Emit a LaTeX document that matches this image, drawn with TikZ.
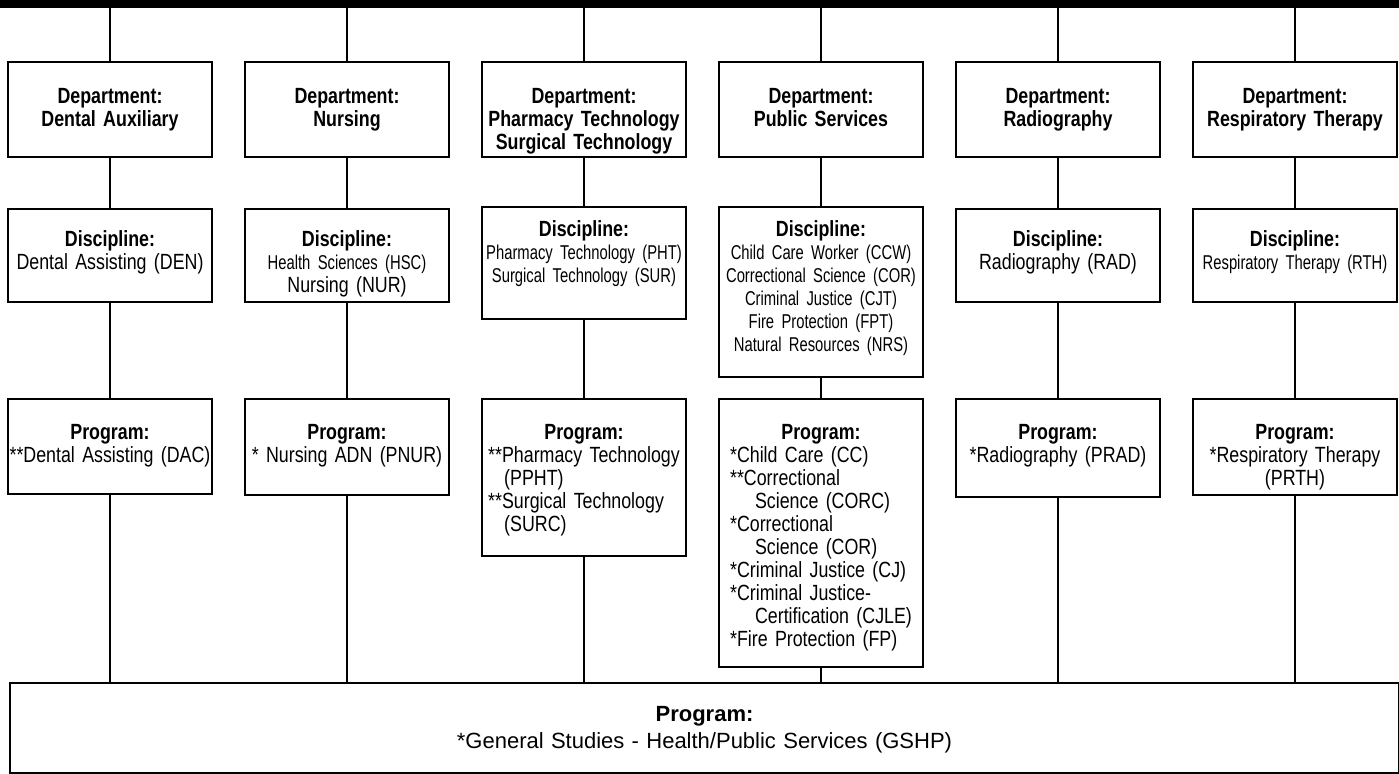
\documentclass[tikz,border=0pt]{standalone}
\usepackage{fontspec}
\setmainfont{Liberation Sans}[FakeStretch=0.81, WordSpace=0.75]
\newfontfamily\narrowfont{Liberation Sans}[FakeStretch=0.74, WordSpace=0.7]
\newfontfamily\plainfont{Liberation Sans}
\newcommand{\sq}{\narrowfont\fontsize{10}{11.2}\selectfont}
\lefthyphenmin=64

\begin{document}
\begin{tikzpicture}[x=0.5pt, y=-0.5pt, every node/.style={font=\fontsize{11}{11.5}\selectfont},
  box/.style={draw, line width=1pt, anchor=north, inner xsep=0pt, inner ysep=0pt, text width=102pt, align=center},
  dept/.style={box, text height=21pt, text depth=26.5pt},
  disc/.style={box, text height=19pt, text depth=27.5pt},
  prog/.style={box, text height=20.5pt, text depth=27pt},
  link/.style={line width=0.75pt}]
  \useasboundingbox (0,0) rectangle (1399,774);
  \node[fill, anchor=north west, inner sep=0pt, minimum width=699.5pt, minimum height=3.75pt] (bar) at (0,0) {};
  % departments
  \node[dept] (dep1) at (110,61) {\textbf{Department:}\\ \textbf{Dental Auxiliary}};
  \node[dept] (dep2) at (347,61) {\textbf{Department:}\\ \textbf{Nursing}};
  \node[dept] (dep3) at (584,61) {\textbf{Department:}\\ \textbf{Pharmacy Technology}\\ \textbf{Surgical Technology}};
  \node[dept] (dep4) at (821,61) {\textbf{Department:}\\ \textbf{Public Services}};
  \node[dept] (dep5) at (1058,61) {\textbf{Department:}\\ \textbf{Radiography}};
  \node[dept] (dep6) at (1295,61) {\textbf{Department:}\\ \textbf{Respiratory Therapy}};
  % disciplines
  \node[disc] (dis1) at (110,208) {\textbf{Discipline:}\\ Dental Assisting (DEN)};
  \node[disc] (dis2) at (347,208) {\textbf{Discipline:}\\ {\sq Health Sciences (HSC)}\\ Nursing (NUR)};
  \node[disc, text height=15pt, text depth=41pt] (dis3) at (584,206) {\textbf{Discipline:}\\ {\sq Pharmacy Technology (PHT)}\\ {\sq Surgical Technology (SUR)}};
  \node[disc, text height=15pt, text depth=70pt] (dis4) at (821,206) {\textbf{Discipline:}\\ {\sq Child Care Worker (CCW)}\\ {\sq Correctional Science (COR)}\\ {\sq Criminal Justice (CJT)}\\ {\sq Fire Protection (FPT)}\\ {\sq Natural Resources (NRS)}};
  \node[disc] (dis5) at (1058,208) {\textbf{Discipline:}\\ Radiography (RAD)};
  \node[disc] (dis6) at (1295,208) {\textbf{Discipline:}\\ {\sq Respiratory Therapy (RTH)}};
  % programs
  \node[prog] (prg1) at (110,398) {\textbf{Program:}\\ \mbox{{**}Dental Assisting (DAC)}};
  \node[prog, text depth=27.5pt] (prg2) at (347,398) {\textbf{Program:}\\ {*} Nursing ADN (PNUR)};
  \node[prog, text depth=58pt] (prg3) at (584,398) {\textbf{Program:}\\
    \begin{tabular}[t]{@{}l@{}}{**}Pharmacy Technology\\ \hspace*{8pt}(PPHT)\\ {**}Surgical Technology\\ \hspace*{8pt}(SURC)\end{tabular}};
  \node[prog, text depth=113.5pt] (prg4) at (821,398) {\textbf{Program:}\\
    \begin{tabular}[t]{@{}l@{}}{*}Child Care (CC)\\ {**}Correctional\\ \hspace*{12.5pt}Science (CORC)\\ {*}Correctional\\ \hspace*{12.5pt}Science (COR)\\ {*}Criminal Justice (CJ)\\ {*}Criminal Justice-\\ \hspace*{12.5pt}Certification (CJLE)\\ {*}Fire Protection (FP)\end{tabular}};
  \node[prog, text depth=28.5pt] (prg5) at (1058,398) {\textbf{Program:}\\ {*}Radiography (PRAD)};
  \node[prog, text depth=27.5pt] (prg6) at (1295,398) {\textbf{Program:}\\ {*}Respiratory Therapy\\ (PRTH)};
  \node[draw, line width=1pt, anchor=north west, inner sep=0pt, text width=694.5pt, align=center,
    text height=19.5pt, text depth=25.5pt, font=\plainfont\fontsize{11}{13.5}\selectfont] (gshp) at (9,682)
    {\textbf{Program:}\\ {*}General Studies - Health/Public Services (GSHP)};
  \foreach \i in {1,...,6}
    \draw[link] (bar.south -| dep\i.north) -- (dep\i.north) (dep\i.south) -- (dis\i.north)
      (dis\i.south) -- (prg\i.north) (prg\i.south) -- (prg\i.south |- gshp.north);
\end{tikzpicture}
\end{document}
